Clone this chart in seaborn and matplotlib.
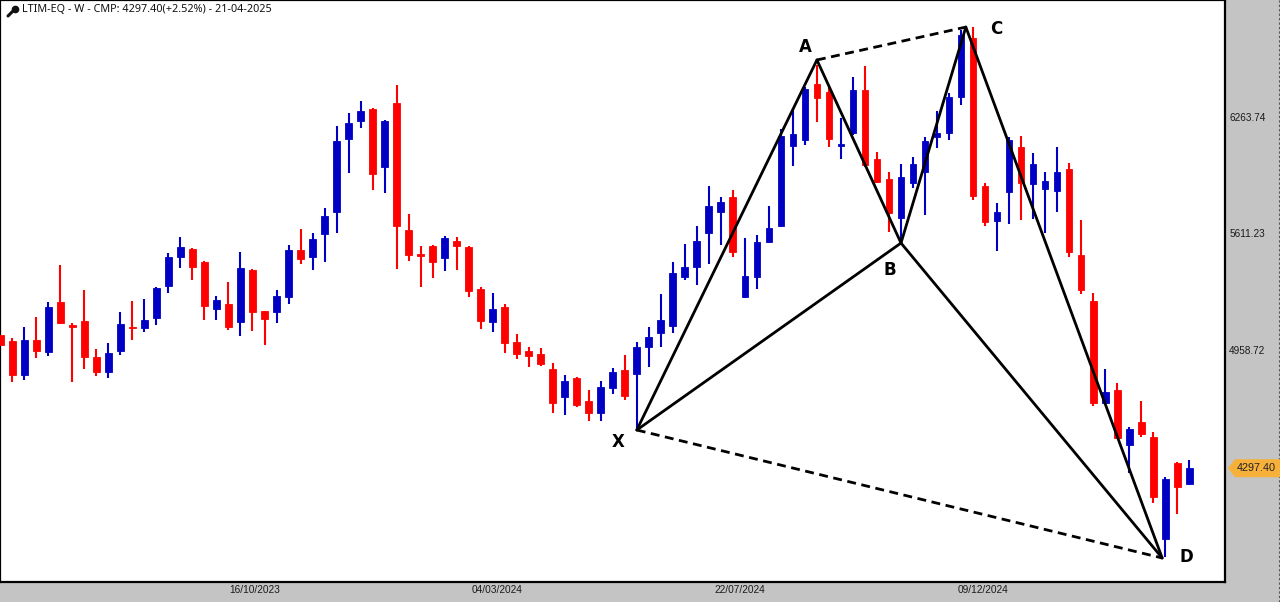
import numpy as np
import matplotlib
matplotlib.use("Agg")
import matplotlib.pyplot as plt
from matplotlib.patches import Polygon
from matplotlib.lines import Line2D
from matplotlib.transforms import IdentityTransform
import seaborn as sns

# Weekly OHLC for LTIM-EQ (100 bars, oldest first)
opens = [5043, 5009, 4819, 5015, 4947, 5227, 5098, 5121, 4919, 4835,
         4953, 5087, 5082, 5138, 5317, 5479, 5524, 5451, 5188, 5216,
         5115, 5406, 5177, 5171, 5255, 5518, 5479, 5608, 5731, 6139,
         6240, 6307, 5982, 6340, 5630, 5496, 5540, 5473, 5568, 5535,
         5300, 5115, 5199, 5003, 4953, 4936, 4852, 4696, 4802, 4673,
         4606, 4746, 4847, 4824, 4975, 5054, 5093, 5367, 5423, 5613,
         5731, 5814, 5255, 5367, 5563, 5652, 6100, 6133, 6447, 6402,
         6100, 6172, 6413, 6027, 5915, 5697, 5893, 5954, 6150, 6172,
         6374, 6704, 5876, 5680, 5842, 6094, 5887, 5859, 5848, 5971,
         5490, 5233, 4662, 4735, 4427, 4556, 4472, 3901, 4327, 4209]
highs = [5070, 5026, 5087, 5143, 5227, 5434, 5110, 5294, 4964, 4998,
         5171, 5233, 5244, 5311, 5501, 5591, 5529, 5456, 5261, 5339,
         5507, 5412, 5177, 5294, 5546, 5636, 5613, 5753, 6212, 6284,
         6352, 6312, 6245, 6441, 5719, 5540, 5546, 5596, 5591, 5540,
         5311, 5277, 5216, 5048, 4975, 4970, 4886, 4819, 4808, 4735,
         4785, 4858, 4931, 5003, 5087, 5272, 5451, 5552, 5652, 5876,
         5814, 5854, 5585, 5602, 5764, 6195, 6312, 6430, 6553, 6430,
         6256, 6486, 6547, 6066, 5954, 5999, 6038, 6150, 6296, 6396,
         6749, 6765, 5893, 5781, 6150, 6156, 6061, 5954, 6094, 6005,
         5686, 5277, 4852, 4774, 4528, 4673, 4500, 4248, 4330, 4343]
lows = [4959, 4780, 4791, 4914, 4925, 5104, 4780, 4852, 4813, 4802,
        4931, 5015, 5059, 5098, 5277, 5417, 5350, 5126, 5126, 5070,
        5037, 5065, 4987, 5110, 5216, 5440, 5406, 5451, 5613, 5949,
        6200, 5854, 5837, 5412, 5456, 5311, 5361, 5400, 5406, 5255,
        5076, 5059, 4942, 4908, 4863, 4869, 4606, 4595, 4640, 4561,
        4561, 4712, 4679, 4511, 4863, 4975, 5054, 5350, 5322, 5440,
        5546, 5479, 5250, 5300, 5560, 5647, 5988, 6105, 6234, 6094,
        6027, 6161, 5982, 5893, 5619, 5557, 5865, 5714, 6089, 6133,
        6329, 5798, 5652, 5512, 5663, 5686, 5691, 5613, 5731, 5479,
        5272, 4645, 4660, 4460, 4271, 4472, 4103, 3801, 4041, 4203]
closes = [4987, 4819, 5015, 4953, 5199, 5110, 5087, 4919, 4835, 4942,
          5104, 5082, 5126, 5305, 5479, 5535, 5423, 5205, 5238, 5087,
          5417, 5171, 5132, 5261, 5518, 5468, 5580, 5708, 6128, 6228,
          6296, 5943, 6240, 5652, 5490, 5484, 5451, 5585, 5540, 5289,
          5121, 5188, 4998, 4936, 4925, 4880, 4662, 4785, 4651, 4606,
          4752, 4835, 4701, 4975, 5031, 5126, 5389, 5423, 5568, 5764,
          5787, 5507, 5373, 5563, 5641, 6156, 6167, 6419, 6368, 6139,
          6111, 6413, 5994, 5898, 5725, 5926, 5999, 6128, 6172, 6374,
          6721, 5820, 5675, 5731, 6133, 5893, 5999, 5904, 5954, 5507,
          5294, 4662, 4724, 4466, 4517, 4489, 4136, 4237, 4192, 4297.40]

# XABCD harmonic pattern pivots (bar position, price)
pattern_names = ["X", "A", "B", "C", "D"]
pattern_bar = [53.0, 68.0, 75.0, 80.4, 96.75]
pattern_price = [4511, 6581, 5557, 6765, 3795]
solid_legs = [("X", "A"), ("A", "B"), ("B", "C"), ("C", "D"), ("X", "B"), ("B", "D")]
dashed_legs = [("X", "D"), ("A", "C")]
label_offsets = {"X": (-19, -12), "A": (-12, 13), "B": (-11, -27), "C": (30, -2), "D": (24, 1)}

price_ticks = [6263.74, 5611.23, 4958.72]
date_labels = ["16/10/2023", "04/03/2024", "22/07/2024", "09/12/2024"]
date_pos = [21.2, 41.4, 61.6, 81.8]

title = "LTIM-EQ - W - CMP: 4297.40(+2.52%) - 21-04-2025"
last_price = 4297.40

UP = "#0000C4"
DOWN = "#FF0000"
PANEL = "#C4C4C4"

sns.set_style("white")
plt.rcParams["font.family"] = ["DejaVu Sans"]

W, H = 1280, 602
fig = plt.figure(figsize=(W / 100, H / 100), dpi=100, facecolor=PANEL)
ax = fig.add_axes([0, 20 / H, 1225 / W, 582 / H])
ax.set_facecolor("white")

o = np.array(opens, float)
h = np.array(highs, float)
l = np.array(lows, float)
c = np.array(closes, float)
idx = np.arange(len(o))
cols = np.where(c >= o, UP, DOWN)

# wicks and bodies
ax.vlines(idx, l, h, colors=cols, lw=1.5, zorder=2)
ax.bar(idx, np.abs(c - o), bottom=np.minimum(o, c), width=0.56,
       color=cols, edgecolor=cols, linewidth=0.6, zorder=3)

# pattern legs
pts = {n: (x, y) for n, x, y in zip(pattern_names, pattern_bar, pattern_price)}
for a, b in solid_legs:
    sns.lineplot(x=[pts[a][0], pts[b][0]], y=[pts[a][1], pts[b][1]], ax=ax,
                 color="black", lw=2.0, sort=False, zorder=4)
for a, b in dashed_legs:
    sns.lineplot(x=[pts[a][0], pts[b][0]], y=[pts[a][1], pts[b][1]], ax=ax,
                 color="black", lw=2.0, sort=False, zorder=4, dashes=False,
                 linestyle=(0, (3.2, 2.0)))
for n in pattern_names:
    ax.annotate(n, pts[n], xytext=label_offsets[n], textcoords="offset pixels",
                ha="center", va="center", fontsize=12, fontweight="bold",
                color="black", zorder=5)

ax.set_xlim(-0.025, 101.98)
ax.set_ylim(3660.8, 6916.5)

ax.yaxis.tick_right()
ax.set_yticks(price_ticks)
ax.set_yticklabels([f"{v:.2f}" for v in price_ticks])
ax.tick_params(axis="y", length=0, pad=3, labelsize=7.2, labelcolor="#1a1a1a")
for t in ax.get_yticklabels():
    t.set_fontfamily(["Liberation Sans", "DejaVu Sans"])

ax.set_xticks(date_pos)
ax.set_xticklabels(date_labels)
ax.tick_params(axis="x", length=0, pad=2, labelsize=7.3, labelcolor="#1a1a1a")
for t in ax.get_xticklabels():
    t.set_fontfamily(["Liberation Sans", "DejaVu Sans"])

for s in ax.spines.values():
    s.set_visible(True)
    s.set_color("black")
    s.set_linewidth(1.6)
ax.set_xlabel("")
ax.set_ylabel("")
ax.grid(False)

# header
ax.text(22 / 1225, 1 - 10 / 582, title, transform=ax.transAxes, ha="left",
        va="center", fontsize=7.8, color="#111111", family=["Noto Sans", "DejaVu Sans"])
fig.add_artist(Line2D([8, 13.5], [H - 16, H - 10.5], transform=IdentityTransform(),
                      color="#111111", lw=2.2, solid_capstyle="round"))
fig.add_artist(Line2D([14.5], [H - 9], transform=IdentityTransform(), marker="o",
                      markersize=4.5, color="#111111", lw=0))

# last price badge
fig.canvas.draw()
yb = ax.transData.transform((0, last_price))[1]
badge = Polygon([(1228, yb), (1235, yb + 9), (1280, yb + 9), (1280, yb - 9), (1235, yb - 9)],
                closed=True, transform=IdentityTransform(), facecolor="#F7B03A",
                edgecolor="none", zorder=10)
fig.add_artist(badge)
fig.text(1256 / W, yb / H, f"{last_price:.2f}", ha="center", va="center", fontsize=7.8,
         color="#222222", family=["Liberation Sans", "DejaVu Sans"], zorder=11)

# right panel edge
fig.add_artist(Line2D([1278.5 / W] * 2, [0, 1], transform=fig.transFigure,
                      color="#555555", lw=0.8, linestyle=(0, (2, 2))))

fig.savefig("out.png", dpi=100, facecolor=PANEL)
